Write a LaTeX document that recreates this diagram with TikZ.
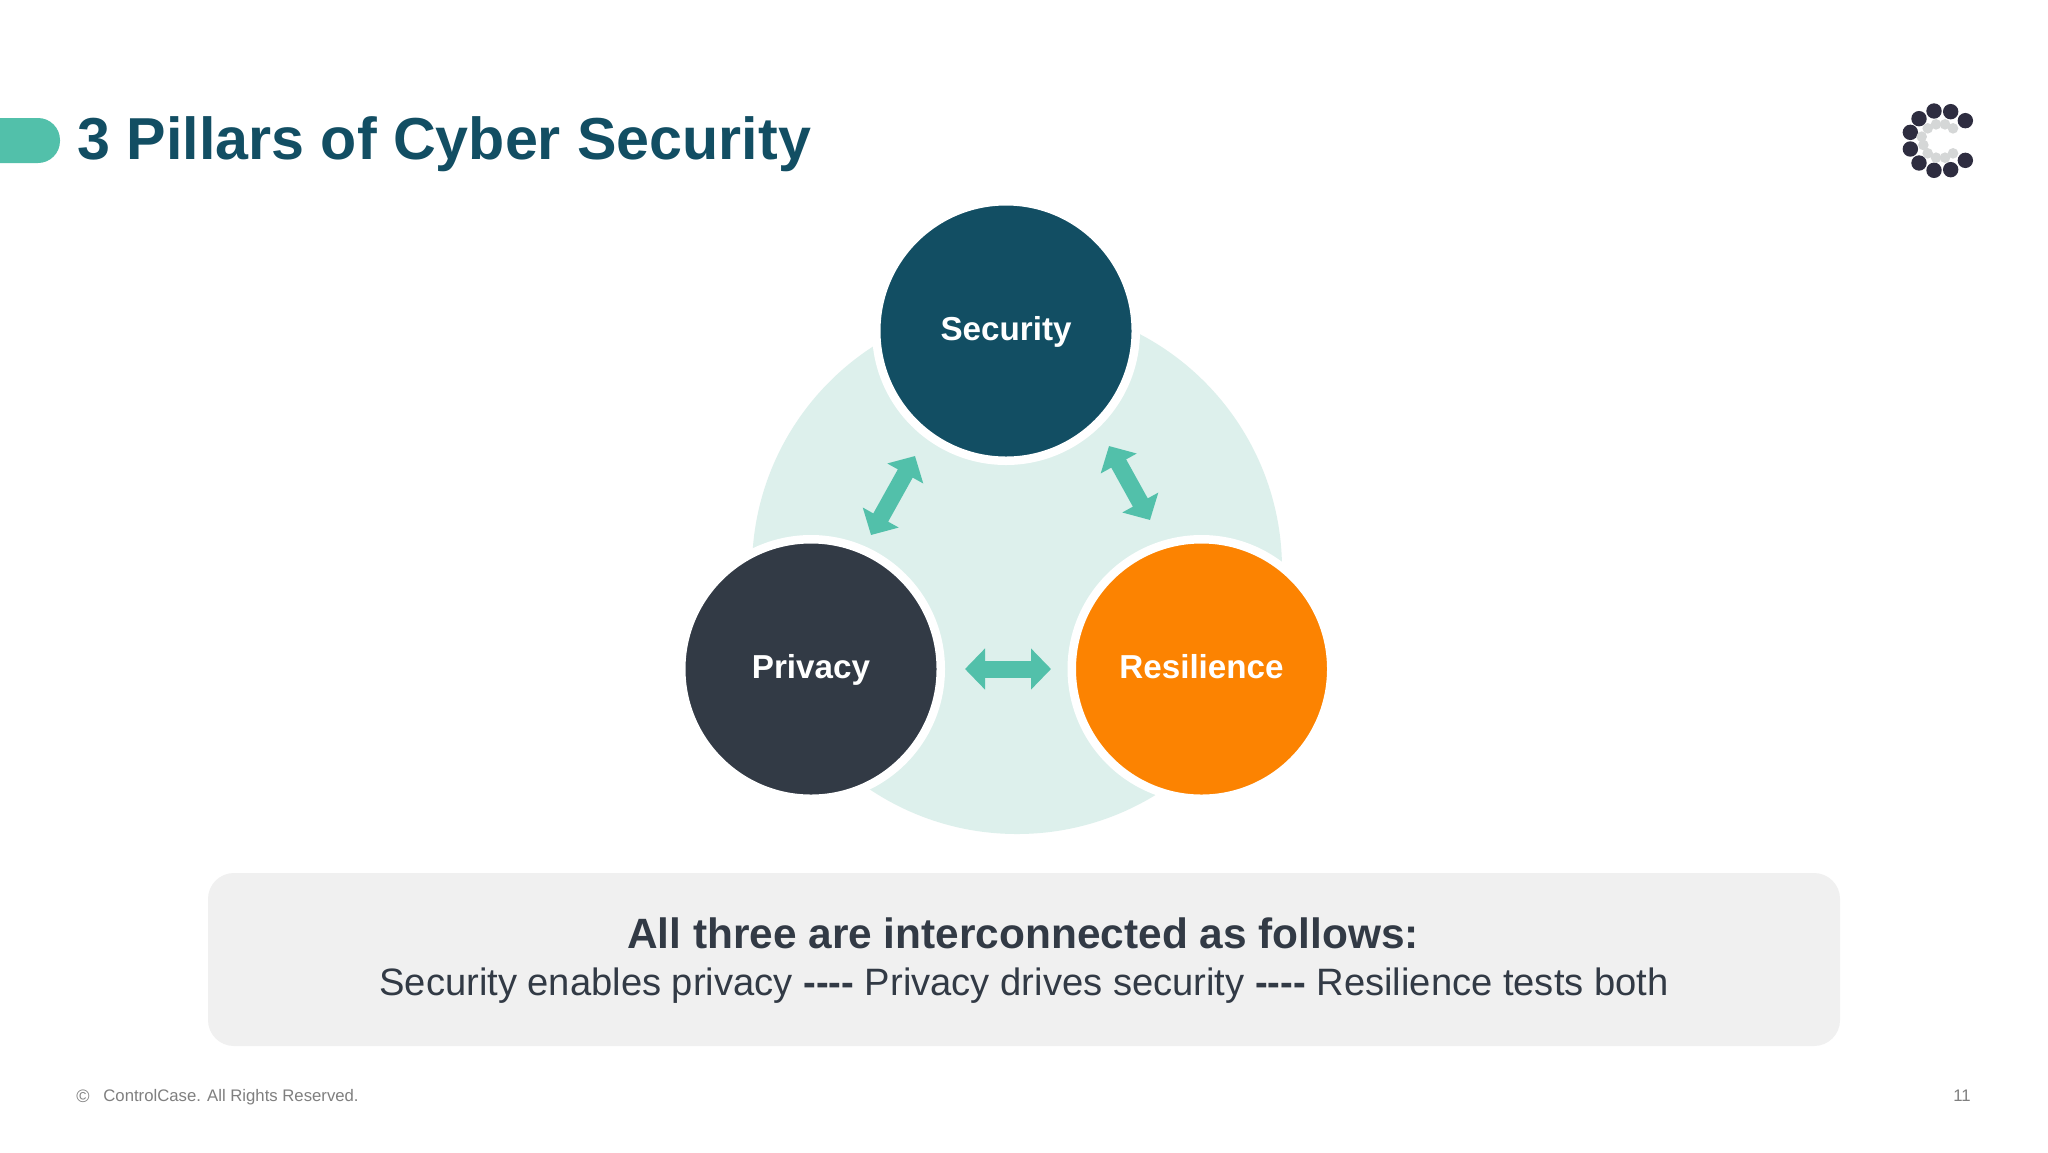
\documentclass[tikz,border=0pt]{standalone}
\usepackage{fontspec}
\setmainfont{Liberation Sans}
\usetikzlibrary{arrows.meta}
\definecolor{teal}{HTML}{124E63}
\definecolor{mint}{HTML}{52C0AA}
\definecolor{pale}{HTML}{DDF0EC}
\definecolor{slate}{HTML}{323A45}
\definecolor{amber}{HTML}{FC8301}
\definecolor{panel}{HTML}{F0F0F0}
\definecolor{logodark}{HTML}{2E2D40}
\definecolor{logolight}{HTML}{D5D7D7}
\definecolor{foot}{HTML}{7F7F7F}

\begin{document}
\begin{tikzpicture}[x=0.5pt,y=-0.5pt,
  pillar/.style={circle,draw=white,line width=4.25pt,minimum size=129.75pt,inner sep=0pt,
    text=white,text height=12.5pt,text depth=2.7pt,font=\fontsize{16.6}{20}\selectfont\bfseries},
  link/.style={draw=mint,line width=8.5pt,{Triangle[width=20pt,length=10pt,fill=mint]}-{Triangle[width=20pt,length=10pt,fill=mint]}}]
\useasboundingbox (0,0) rectangle (2048,1152);
\fill[white] (0,0) rectangle (2048,1152);

\fill[mint,rounded corners=11pt] (-30,118) -- (60,118) -- (60,163) -- (-30,163) -- cycle;
\node[anchor=west,inner sep=0pt,text=teal,font=\fontsize{29.6}{36}\selectfont\bfseries] (title) at (77,144) {3 Pillars of Cyber Security};

\foreach \x/\y in {222/93,272/95,316/122,177/116,151/157,151/207,177/249,222/271,272/269,316/241}
  \fill[logodark] ({1860+\x/3},{80+\y/3}) circle (7.7);
\foreach \x/\y in {203/145,228/133,255/133,279/145,185/170,190/195,203/220,228/233,255/233,279/220}
  \fill[logolight] ({1860+\x/3},{80+\y/3}) circle (5.3);

\fill[pale] (1017,569) circle (265);

\node[pillar,fill=teal] (security) at (1006,331) {Security};
\node[pillar,fill=slate] (privacy) at (811,669) {Privacy};
\node[pillar,fill=amber] (resilience) at (1201.5,669) {Resilience};

\coordinate (secleft) at (915,456);
\coordinate (privup) at (871,535);
\coordinate (secright) at (1109,446);
\coordinate (resup) at (1150,520);
\coordinate (privright) at (965,669);
\coordinate (resleft) at (1051,669);
\draw[link] (secleft) -- (privup);
\draw[link] (secright) -- (resup);
\draw[link] (privright) -- (resleft);

\fill[panel,rounded corners=13pt] (208,873) rectangle (1840,1046);
\node[text=slate,inner sep=0pt,font=\fontsize{21.2}{26}\selectfont\bfseries] (heading) at (1023,933) {All three are interconnected as follows:};
\node[text=slate,inner sep=0pt,font=\fontsize{19.08}{24}\selectfont] (body) at (1024,985.5) {Security enables privacy \textbf{-{}-{}-{}-} Privacy drives security \textbf{-{}-{}-{}-} Resilience tests both};

\node[anchor=west,inner sep=0pt,text=foot,font=\fontsize{9}{12}\selectfont] (copyright) at (76,1096.5) {©};
\node[anchor=west,inner sep=0pt,text=foot,font=\fontsize{8.36}{11}\selectfont] (rights) at (103,1097) {ControlCase. All Rights Reserved.};
\node[anchor=east,inner sep=0pt,text=foot,font=\fontsize{8.36}{11}\selectfont] (pagenum) at (1971,1096) {11};
\end{tikzpicture}
\end{document}
